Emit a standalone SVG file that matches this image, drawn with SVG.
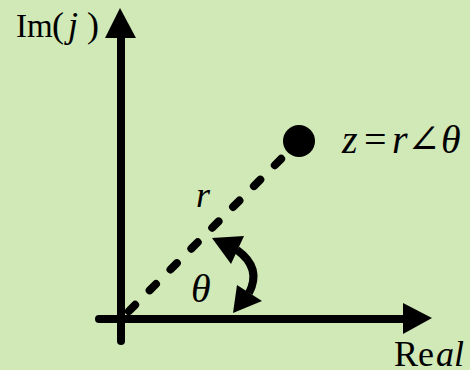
<svg xmlns="http://www.w3.org/2000/svg" width="470" height="370" viewBox="0 0 470 370">
<style>
.t{font-family:"Liberation Serif","DejaVu Serif",serif;font-size:36px;fill:#000}
.b{font-size:40px}
.i{font-style:italic}
.ax{stroke:#000;stroke-width:8;stroke-linecap:round;fill:none}
.hd{fill:#000;stroke:none}
</style>
<rect x="0" y="0" width="470" height="370" fill="#d0e9b6"/>
<g id="connectors">
<line class="ax" x1="121" y1="341" x2="121" y2="36"/>
<polygon class="hd" points="120,8 136,38 105,38"/>
<line class="ax" x1="99" y1="319" x2="405" y2="319"/>
<polygon class="hd" points="432,318 403,303 403,334"/>
<line x1="121" y1="319" x2="299" y2="141" stroke="#000" stroke-width="8" stroke-linecap="round" stroke-dasharray="9 20.5" stroke-dashoffset="18.5"/>
<path d="M237,250 Q262,268 249,293" fill="none" stroke="#000" stroke-width="8"/>
<polygon class="hd" points="212,238 244,236 231,264"/>
<polygon class="hd" points="233,313 237,285 262,301"/>
</g>
<g id="point">
<circle cx="299" cy="141" r="16" fill="#000"/>
</g>
<g id="labels">
<text class="t" y="37"><tspan x="16" style="font-size:33px">Im</tspan><tspan x="52">(</tspan><tspan class="i" x="68">j</tspan><tspan x="87">)</tspan></text>
<text class="t b" y="153"><tspan class="i" x="342">z</tspan><tspan x="364">=</tspan><tspan class="i" x="392">r</tspan><tspan x="407">∠</tspan><tspan class="i" x="441">θ</tspan></text>
<text class="t i" x="196" y="207">r</text>
<text class="t b i" x="191" y="302">θ</text>
<text class="t" y="366"><tspan x="394">Re</tspan><tspan class="i" x="436">al</tspan></text>
</g>
</svg>
